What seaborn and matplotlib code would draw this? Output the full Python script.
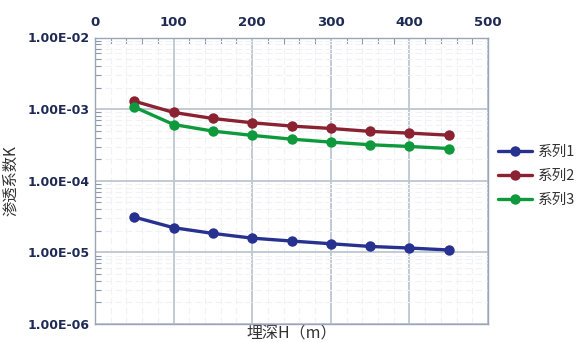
import matplotlib
matplotlib.use("Agg")
import matplotlib.pyplot as plt
import seaborn as sns
import pandas as pd
import numpy as np
from matplotlib.ticker import FixedLocator, LogLocator, NullFormatter, FuncFormatter, MultipleLocator

depth = [50, 100, 150, 200, 250, 300, 350, 400, 450]
series1 = [3.11e-5, 2.21e-5, 1.84e-5, 1.58e-5, 1.44e-5, 1.32e-5, 1.21e-5, 1.15e-5, 1.08e-5]
series2 = [1.29e-3, 9.0e-4, 7.4e-4, 6.45e-4, 5.8e-4, 5.37e-4, 4.89e-4, 4.62e-4, 4.33e-4]
series3 = [1.07e-3, 6.1e-4, 4.93e-4, 4.3e-4, 3.81e-4, 3.46e-4, 3.18e-4, 3.01e-4, 2.82e-4]
names = ["系列1", "系列2", "系列3"]
x_ticks = [0, 100, 200, 300, 400, 500]
y_ticks = [1e-6, 1e-5, 1e-4, 1e-3, 1e-2]

df = pd.concat([
    pd.DataFrame({"H": depth, "K": s, "series": n})
    for s, n in zip([series1, series2, series3], names)
])

sns.set_theme(style="white")
plt.rcParams['font.family'] = ['Noto Sans CJK SC', 'DejaVu Sans']

fig = plt.figure(figsize=(5.79, 3.43), dpi=100)
ax = fig.add_axes([95/579, 19/343, 393/579, 286.5/343])

palette = {"系列1": "#27318F", "系列2": "#8A2231", "系列3": "#0E9A3C"}
sns.lineplot(data=df, x="H", y="K", hue="series", palette=palette, marker="o",
             markersize=7.5, linewidth=2.4, markeredgewidth=0, ax=ax)
ax.set_yscale("log")
ax.set_xlim(0, 500)
ax.set_ylim(1e-6, 1e-2)

ax.xaxis.tick_top()
ax.xaxis.set_major_locator(FixedLocator(x_ticks))
ax.xaxis.set_minor_locator(MultipleLocator(20))
ax.yaxis.set_major_locator(FixedLocator(y_ticks))
ax.yaxis.set_minor_locator(LogLocator(base=10, subs=np.arange(2, 10)))
ax.yaxis.set_minor_formatter(NullFormatter())
ax.yaxis.set_major_formatter(FuncFormatter(lambda v, p: f"{v:.2E}"))

label_color = "#1E2A55"
ax.tick_params(axis="x", which="both", direction="in", top=True, bottom=False,
               labeltop=True, labelbottom=False, colors="#8A98AA", labelcolor=label_color,
               labelsize=9.5, pad=6)
ax.tick_params(axis="x", which="major", length=0)
ax.tick_params(axis="x", which="minor", length=4, width=0.8)
ax.tick_params(axis="y", which="both", direction="in", left=True, colors="#8A98AA",
               labelcolor=label_color, labelsize=9, pad=4)
ax.tick_params(axis="y", which="major", length=0)
ax.tick_params(axis="y", which="minor", length=4, width=0.8)
for lab in ax.get_xticklabels() + ax.get_yticklabels():
    lab.set_fontweight("bold")
    lab.set_fontfamily("DejaVu Sans")

ax.grid(True, which="major", color="#BCC6D2", linewidth=1.3)
ax.grid(True, which="minor", color="#F0F2F5", linewidth=0.8, linestyle=(0, (6, 3)))
for sp in ax.spines.values():
    sp.set_color("#9AA6B4")
    sp.set_linewidth(1.0)

ax.set_xlabel("埋深H（m）", fontsize=11.5, color="#333333", labelpad=1)
ax.xaxis.set_label_position("bottom")
ax.set_ylabel("渗透系数K", fontsize=11, color="#333333", labelpad=6)

leg = ax.legend(loc="center left", bbox_to_anchor=(1.0, 0.517), frameon=False,
                fontsize=10.5, handlelength=2.3, handletextpad=0.4, labelspacing=0.7,
                borderaxespad=0.3)
for t in leg.get_texts():
    t.set_color("#333333")

fig.savefig("out.png", dpi=100)
